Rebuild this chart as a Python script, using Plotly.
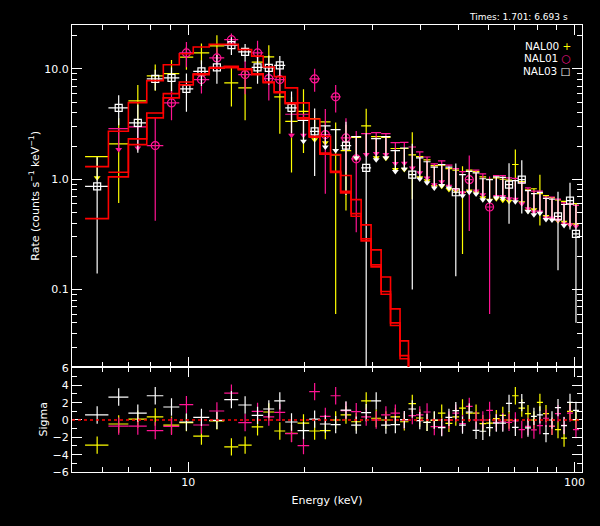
import numpy as np
import plotly.graph_objects as go

# ---------------- data ----------------
EDGES = [5.405, 6.212, 6.997, 7.807, 8.617, 9.478, 10.30, 11.33, 12.39, 13.47,
         14.59, 15.63, 16.69, 17.82, 19.18, 20.56, 21.91, 23.35, 24.79, 26.40,
         28.02, 29.73, 31.56, 33.38, 35.33, 37.15, 38.85, 40.62, 42.38, 44.28,
         46.30, 48.27, 50.24, 52.29, 54.45, 56.70, 59.03, 61.47, 63.94, 66.42,
         68.88, 71.60, 74.38, 77.09, 79.84, 82.79, 85.85, 88.92, 92.22, 95.57,
         99.0, 102.6]

# NAL00 (yellow)
NAL00_RATE = [None, 2.09, 5.13, 8.65, 9.07, 12.8, 14.0, 16.2, 7.47, 6.73,
              11.5, 12.85, 5.58, 3.35, 4.13, None, None, 1.66, 1.82, None,
              3.05, None, None, None, None, 1.66, None, None, None, None,
              None, None, 0.76, None, None, None, None, None, None, None,
              1.36, None, None, None, 0.74, None, None, None, None, None, None]
NAL00_ERR = [None, 1.48, 2.0, 2.3, 3.0, 3.0, 3.0, 4.0, 2.9, 3.3,
             3.0, 3.5, 3.0, 2.2, 2.4, None, None, 1.6, 1.3, None,
             1.3, None, None, None, None, 1.0, None, None, None, None,
             None, None, 0.55, None, None, None, None, None, None, None,
             0.5, None, None, None, 0.36, None, None, None, None, None, None]
NAL00_UL = [1.60, None, None, None, None, None, None, None, None, None,
            None, None, None, None, None, 3.54, 3.31, None, None, 2.40,
            None, 2.43, 2.40, 1.90, 1.90, None, 1.60, 1.50, 1.33, 1.34,
            1.25, 1.21, None, 1.21, 1.17, 1.05, 1.00, 1.03, 1.00, 0.98,
            None, 0.95, 0.80, 0.82, None, 0.71, 0.68, 0.65, 0.63, 0.60, 0.60]

# NAL01 (magenta)
NAL01_RATE = [None, None, None, 2.02, 4.92, 13.97, 8.0, 12.58, 18.4, 8.88,
              13.97, 8.17, 8.0, None, None, 8.12, 2.54, 5.58, 2.37, 1.53,
              None, None, None, None, None, None, None, None, None, None,
              None, None, None, 0.99, None, None, 0.56, None, None, None,
              None, None, None, None, None, None, None, None, None, None, None]
NAL01_ERR = [None, None, None, 1.6, 1.5, 3.6, 2.0, 2.8, 2.5, 3.0,
             4.0, 3.0, 2.0, None, None, 1.9, 1.8, 1.55, 1.2, 1.2,
             None, None, None, None, None, None, None, None, None, None,
             None, None, None, 0.65, None, None, 0.5, None, None, None,
             None, None, None, None, None, None, None, None, None, None, None]
NAL01_UL = [None, 2.88, 2.98, None, None, None, None, None, None, None,
            None, None, None, 3.88, 3.88, None, None, None, None, None,
            2.59, 2.65, 2.59, 2.15, 2.16, 1.96, 1.77, 1.59, 1.38, 1.47,
            1.34, 1.25, 1.17, None, 1.21, 1.12, None, 1.08, 1.08, 1.03,
            1.02, 0.93, 0.835, 0.78, 0.78, 0.69, 0.69, 0.66, 0.61, 0.60, 0.58]

# NAL03 (white)
NAL03_RATE = [0.86, 4.43, 3.24, 8.12, 8.29, 6.59, 9.51, 10.34, 16.4, 14.26,
              10.34, 10.2, 10.78, 4.43, None, 2.72, None, None, 2.02, None,
              1.27, None, None, None, None, 1.10, None, None, None, None,
              None, 0.762, None, None, None, None, None, None, None, 0.894,
              None, 0.99, None, None, None, None, None, 0.46, None, 0.64, 0.32]
NAL03_ERR = [0.72, 1.35, 1.5, 1.7, 2.0, 2.5, 2.5, 3.0, 3.0, 2.6,
             3.0, 3.0, 2.3, 1.8, None, 1.65, None, None, 1.3, None,
             1.36, None, None, None, None, 1.0, None, None, None, None,
             None, 0.63, None, None, None, None, None, None, None, 0.5,
             None, 0.5, None, None, None, None, None, 0.31, None, 0.29, 0.27]
NAL03_UL = [None, None, None, None, None, None, None, None, None, None,
            None, None, None, None, 3.42, None, 3.04, 2.82, None, 2.43,
            None, 2.33, 2.43, 1.82, 1.92, None, 1.56, 1.44, 1.29, 1.36,
            1.29, None, 1.10, 1.18, 1.14, 1.01, 0.99, 1.05, 1.04, None,
            0.97, None, 0.79, 0.74, 0.76, 0.67, 0.66, None, 0.59, None, None]

# folded models (bins 0..25)
MODEL_NAL00 = [1.30, 2.72, 4.95, 7.83, 10.9, 13.7, 15.8, 16.7, 16.7, 14.96,
               13.06, 10.4, 8.52, 6.73, 4.92, 3.52, 2.45, 1.67, 1.08, 0.654,
               0.386, 0.229, 0.130, 0.0669, 0.0343, 0.015]
MODEL_NAL01 = [None, 1.156, 2.32, 3.99, 5.97, 7.62, 9.01, 10.27, 10.56, 10.0,
               9.01, 7.62, 6.19, 4.92, 3.60, 2.45, 1.73, 1.18, 0.778, 0.488,
               0.288, 0.1675, 0.0959, 0.0499, 0.0252, 0.011]
MODEL_NAL03 = [0.44, 1.05, 2.06, 3.60, 5.46, 7.16, 8.88, 10.13, 10.27, 9.86,
               8.88, 7.51, 6.10, 4.85, 3.52, 2.41, 1.69, 1.15, 0.752, 0.462,
               0.276, 0.1606, 0.0907, 0.0472, 0.0236, 0.010]

# residuals (sigma)
RES_NAL00 = [-2.9, -0.46, 0.1, 0.35, -0.6, -0.3, -1.85, -0.1, -3.1, -2.9,
             -0.8, 0.92, -1.27, -1.54, -0.35, -1.27, -1.23, 0.0, 0.58, -0.2,
             2.2, 0.2, 0.0, 0.35, -0.2, 1.9, 0.23, -0.27, -0.05, 0.8,
             -0.38, 0.35, 1.38, 0.8, 0.8, -0.42, -0.35, 0.15, 0.54, 0.0,
             2.8, 1.38, 0.73, 0.0, 2.04, 0.73, -0.73, -1.1, -2.1, 1.0, 0.0]
RES_NAL01 = [None, -0.7, -0.7, -1.23, -0.73, 1.77, -0.58, 1.04, 3.1, -0.3,
             1.0, 0.35, 0.88, -1.58, -2.96, 3.27, 0.42, 2.8, 1.08, 0.96,
             0.35, 0.0, 0.58, 0.8, 0.0, 0.5, 0.58, 0.92, -0.77, -0.8,
             0.0, 0.8, -0.42, 1.58, 0.0, 0.0, 1.1, -0.27, -0.2, -0.27,
             -0.1, -1.1, -0.73, -1.15, -0.65, 0.2, -0.7, 0.73, -0.62, 0.8, -1.1]
RES_NAL03 = [0.58, 2.65, 0.8, 2.8, 1.5, -0.23, 0.3, -0.04, 2.35, 1.73,
             0.54, 1.27, 2.2, -0.23, -1.23, 0.1, -0.46, -0.54, 1.15, -0.6,
             0.85, 2.2, -0.6, -0.54, 0.04, 1.27, -0.08, -0.27, 0.0, -0.88,
             0.3, 1.08, -0.6, 0.92, -1.2, -1.3, -0.88, -0.35, -0.35, 1.92,
             -0.85, 2.0, -0.92, 0.42, 0.6, -1.58, 0.0, 1.42, -0.65, 2.04, 1.1]

DETECTORS = ["NAL00", "NAL01", "NAL03"]
TICK_X_MAJOR = [10, 100]
TICK_X_LABELS = ["10", "100"]
TICK_Y_MAJOR = [0.1, 1, 10]
TICK_Y_LABELS = ["0.1", "1.0", "10.0"]
TICK_S_MAJOR = [-6, -4, -2, 0, 2, 4, 6]

# ---------------- styles ----------------
YEL, MAG, WHT, RED = "#ffff00", "#ff1493", "#ffffff", "#ff0000"
ARROW = 10 ** 0.19       # length of upper-limit arrows (in decades)
FONT = "DejaVu Sans"
LW = 1.2

edges = np.array(EDGES)
lo, hi = edges[:-1], edges[1:]
ctr = (lo + hi) / 2.0
xm, xp = ctr - lo, hi - ctr


def arr(a):
    return np.array([np.nan if v is None else v for v in a], dtype=float)


fig = go.Figure()


def add_detector(rate, err, ul, color, symbol, msize):
    r, e, u = arr(rate), arr(err), arr(ul)
    ok = ~np.isnan(r)
    minus = np.minimum(e[ok], r[ok] - 1e-4)
    fig.add_trace(go.Scatter(
        x=ctr[ok], y=r[ok], mode="markers", xaxis="x2", yaxis="y",
        marker=dict(symbol=symbol, size=msize, color=color,
                    line=dict(width=1.2, color=color)) if symbol else
        dict(size=1, color="rgba(0,0,0,0)"),
        error_x=dict(type="data", symmetric=False, array=xp[ok], arrayminus=xm[ok],
                     color=color, thickness=LW, width=0),
        error_y=dict(type="data", symmetric=False, array=e[ok], arrayminus=minus,
                     color=color, thickness=LW, width=0),
        showlegend=False, hoverinfo="skip"))
    ok = ~np.isnan(u)
    tip = u[ok] / ARROW
    fig.add_trace(go.Scatter(
        x=ctr[ok], y=u[ok], mode="markers", xaxis="x2", yaxis="y",
        marker=dict(size=1, color="rgba(0,0,0,0)"),
        error_x=dict(type="data", symmetric=False, array=xp[ok], arrayminus=xm[ok],
                     color=color, thickness=LW, width=0),
        error_y=dict(type="data", symmetric=False, array=np.zeros(ok.sum()),
                     arrayminus=u[ok] - tip, color=color, thickness=LW, width=0),
        showlegend=False, hoverinfo="skip"))
    fig.add_trace(go.Scatter(
        x=ctr[ok], y=tip, mode="markers", xaxis="x2", yaxis="y",
        marker=dict(symbol="triangle-down", size=6, color=color, line=dict(width=0)),
        showlegend=False, hoverinfo="skip"))


add_detector(NAL00_RATE, NAL00_ERR, NAL00_UL, YEL, None, 0)
add_detector(NAL01_RATE, NAL01_ERR, NAL01_UL, MAG, "circle-open", 8)
add_detector(NAL03_RATE, NAL03_ERR, NAL03_UL, WHT, "square-open", 7)

for model in (MODEL_NAL00, MODEL_NAL01, MODEL_NAL03):
    m = arr(model)
    ok = ~np.isnan(m)
    idx = np.where(ok)[0]
    xs = list(edges[idx]) + [edges[idx[-1] + 1]]
    ys = list(m[idx]) + [m[idx[-1]]]
    fig.add_trace(go.Scatter(x=xs, y=ys, mode="lines", xaxis="x2", yaxis="y",
                             line=dict(color=RED, width=1.6, shape="hv"),
                             showlegend=False, hoverinfo="skip"))

for res, color in ((RES_NAL00, YEL), (RES_NAL01, MAG), (RES_NAL03, WHT)):
    r = arr(res)
    ok = ~np.isnan(r)
    fig.add_trace(go.Scatter(
        x=ctr[ok], y=r[ok], mode="markers", xaxis="x", yaxis="y2",
        marker=dict(size=1, color="rgba(0,0,0,0)"),
        error_x=dict(type="data", symmetric=False, array=xp[ok], arrayminus=xm[ok],
                     color=color, thickness=LW, width=0),
        error_y=dict(type="data", array=np.ones(ok.sum()), color=color,
                     thickness=LW, width=0),
        showlegend=False, hoverinfo="skip"))

fig.add_shape(type="line", xref="paper", x0=0, x1=1, yref="y2", y0=0, y1=0,
              line=dict(color=RED, width=1.5, dash="dot"))

tickfont = dict(family=FONT, size=11, color="white")
common = dict(showline=True, linecolor="white", linewidth=1, mirror="ticks",
              ticks="inside", ticklen=10, tickwidth=1, tickcolor="white",
              showgrid=False, zeroline=False, tickfont=tickfont, automargin=False)
x_minor = dict(tickvals=[6, 7, 8, 9, 20, 30, 40, 50, 60, 70, 80, 90],
               ticks="inside", ticklen=5, tickcolor="white", tickwidth=1)
xr = [np.log10(5.0), np.log10(104.5)]
split = 0.2356

fig.update_layout(
    width=600, height=526,
    margin=dict(l=72, r=18, t=25, b=54),
    paper_bgcolor="black", plot_bgcolor="black",
    font=dict(family=FONT, color="white", size=11),
    xaxis=dict(type="log", range=xr, domain=[0, 1], anchor="y2",
               tickmode="array", tickvals=TICK_X_MAJOR, ticktext=TICK_X_LABELS,
               minor=x_minor,
               title=dict(text="Energy (keV)", font=dict(family=FONT, size=11),
                          standoff=8), **common),
    xaxis2=dict(type="log", range=xr, domain=[0, 1], anchor="y", matches="x",
                tickmode="array", tickvals=TICK_X_MAJOR, showticklabels=False,
                minor=x_minor, **common),
    yaxis=dict(type="log", range=[np.log10(0.02), np.log10(25)],
               domain=[split, 1], anchor="x2",
               tickmode="array", tickvals=TICK_Y_MAJOR, ticktext=TICK_Y_LABELS,
               minor=dict(tickvals=[0.02, 0.03, 0.04, 0.05, 0.06, 0.07, 0.08, 0.09,
                                    0.2, 0.3, 0.4, 0.5, 0.6, 0.7, 0.8, 0.9,
                                    2, 3, 4, 5, 6, 7, 8, 9, 20],
                          ticks="inside", ticklen=5, tickcolor="white", tickwidth=1),
               title=dict(text="Rate (counts s<sup>−1</sup> keV<sup>−1</sup>)",
                          font=dict(family=FONT, size=11), standoff=2),
               **common),
    yaxis2=dict(range=[-6.0, 6.15], domain=[0, split], anchor="x",
                tickmode="array", tickvals=TICK_S_MAJOR,
                minor=dict(tickvals=[-5, -3, -1, 1, 3, 5], ticks="inside",
                           ticklen=5, tickcolor="white", tickwidth=1),
                title=dict(text="Sigma", font=dict(family=FONT, size=11), standoff=2),
                **common),
)

fig.add_annotation(text="Times: 1.701: 6.693 s", xref="paper", yref="paper",
                   x=0.9765, y=1.018, xanchor="right", yanchor="middle",
                   showarrow=False, font=dict(family=FONT, size=9, color="white"))

legend_items = [("NAL00", "+", YEL), ("NAL01", "○", MAG), ("NAL03", "□", WHT)]
for i, (name, sym, col) in enumerate(legend_items):
    yy = 0.953 - i * 0.0275
    fig.add_annotation(text=f"{name} <span style='color:{col}'>{sym}</span>",
                       xref="paper", yref="paper", x=0.982, y=yy,
                       xanchor="right", yanchor="middle", showarrow=False,
                       font=dict(family=FONT, size=10.5, color="white"))

fig.write_html("out.html", config={"displayModeBar": False},
               post_script="document.body.style.margin='0';"
                           "document.body.style.background='black';")
